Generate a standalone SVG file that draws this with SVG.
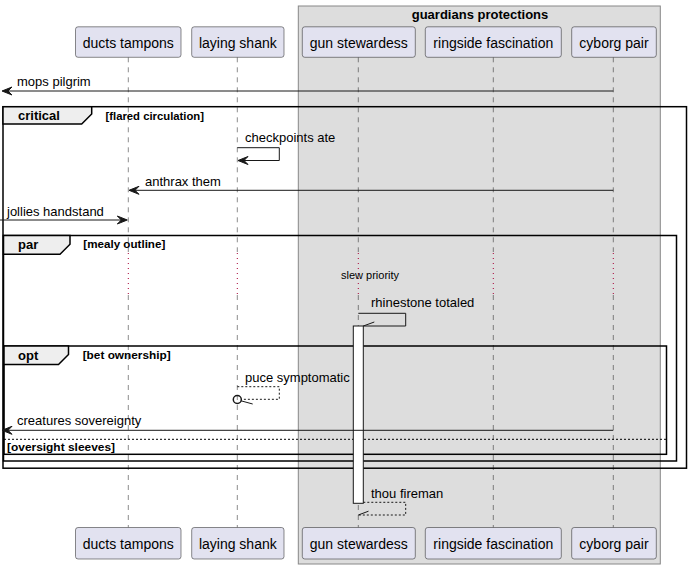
<svg xmlns="http://www.w3.org/2000/svg" width="691" height="569" viewBox="0 0 691 569">
<defs>
<style>
.pbox{fill:#E2E2F0;stroke:#181818;stroke-width:0.5;}
.plabel{font-family:"Liberation Sans",Arial,sans-serif;font-size:14px;fill:#000;text-anchor:middle;}
.life{stroke:#181818;stroke-width:0.5;stroke-dasharray:5,5;fill:none;}
.delay{stroke:#A80036;stroke-width:1;stroke-dasharray:1,4;fill:none;}
.msg{stroke:#181818;stroke-width:1;fill:none;}
.dmsg{stroke:#181818;stroke-width:1;fill:none;stroke-dasharray:2,2;}
.mtext{font-family:"Liberation Sans",Arial,sans-serif;font-size:13px;fill:#000;}
.small{font-family:"Liberation Sans",Arial,sans-serif;font-size:11px;fill:#000;}
.frame{stroke:#000;stroke-width:1.5;fill:none;}
.tab{stroke:#000;stroke-width:1.5;fill:#EEEEEE;}
.ftitle{font-family:"Liberation Sans",Arial,sans-serif;font-size:13px;font-weight:bold;fill:#000;}
.fcond{font-family:"Liberation Sans",Arial,sans-serif;font-size:11.5px;font-weight:bold;fill:#000;}
.head{fill:#181818;stroke:#181818;stroke-width:1;}
</style>
</defs>
<g id="box-guardians">
<rect x="298.3" y="6" width="362" height="558" fill="#DDDDDD" stroke="#888888" stroke-width="1"/>
<text x="480" y="19.3" class="ftitle" text-anchor="middle">guardians protections</text>
</g>
<g id="lifelines">
<path class="life" d="M128.3,57.3 V252 M128.3,295 V527.5"/>
<path class="life" d="M237.3,57.3 V252 M237.3,295 V527.5"/>
<path class="life" d="M358.3,57.3 V252 M358.3,295 V527.5"/>
<path class="life" d="M493.3,57.3 V252 M493.3,295 V527.5"/>
<path class="life" d="M613.3,57.3 V252 M613.3,295 V527.5"/>
<path class="delay" d="M128.3,253 V295 M237.3,253 V295 M358.3,253 V295 M493.3,253 V295 M613.3,253 V295"/>
</g>
<g id="ducts-tampons">
<rect class="pbox" x="75.5" y="26.8" width="105.5" height="30.5" rx="2.5"/>
<text class="plabel" x="128.3" y="47.5">ducts tampons</text>
<rect class="pbox" x="75.5" y="527.5" width="105.5" height="31.5" rx="2.5"/>
<text class="plabel" x="128.3" y="548.5">ducts tampons</text>
</g>
<g id="laying-shank">
<rect class="pbox" x="191.7" y="26.8" width="92.3" height="30.5" rx="2.5"/>
<text class="plabel" x="237.8" y="47.5">laying shank</text>
<rect class="pbox" x="191.7" y="527.5" width="92.3" height="31.5" rx="2.5"/>
<text class="plabel" x="237.8" y="548.5">laying shank</text>
</g>
<g id="gun-stewardess">
<rect class="pbox" x="302.3" y="26.8" width="113" height="30.5" rx="2.5"/>
<text class="plabel" x="358.8" y="47.5">gun stewardess</text>
<rect class="pbox" x="302.3" y="527.5" width="113" height="31.5" rx="2.5"/>
<text class="plabel" x="358.8" y="548.5">gun stewardess</text>
</g>
<g id="ringside-fascination">
<rect class="pbox" x="425.3" y="26.8" width="136" height="30.5" rx="2.5"/>
<text class="plabel" x="493.3" y="47.5">ringside fascination</text>
<rect class="pbox" x="425.3" y="527.5" width="136" height="31.5" rx="2.5"/>
<text class="plabel" x="493.3" y="548.5">ringside fascination</text>
</g>
<g id="cyborg-pair">
<rect class="pbox" x="571.7" y="26.8" width="84.6" height="30.5" rx="2.5"/>
<text class="plabel" x="614" y="47.5">cyborg pair</text>
<rect class="pbox" x="571.7" y="527.5" width="84.6" height="31.5" rx="2.5"/>
<text class="plabel" x="614" y="548.5">cyborg pair</text>
</g>
<g id="frames">
<rect class="frame" x="3" y="106.7" width="683.5" height="361.5"/>
<path class="tab" d="M3,106.7 H91.7 V114 L81.7,124 H3 Z"/>
<text class="ftitle" x="18" y="120.3">critical</text>
<text class="fcond" x="105.5" y="119.5" textLength="98.5" lengthAdjust="spacingAndGlyphs">[flared circulation]</text>
<rect class="frame" x="3.5" y="235.5" width="673" height="225.5"/>
<path class="tab" d="M3.5,235.5 H70 V244.3 L60,254.3 H3.5 Z"/>
<text class="ftitle" x="18" y="249.3">par</text>
<text class="fcond" x="83.3" y="248.3" textLength="82" lengthAdjust="spacingAndGlyphs">[mealy outline]</text>
<rect class="frame" x="4" y="346" width="662.5" height="108.3"/>
<path class="tab" d="M4,346 H68.5 V354.5 L58.5,364.5 H4 Z"/>
<text class="ftitle" x="18" y="360">opt</text>
<text class="fcond" x="82.7" y="359" textLength="88" lengthAdjust="spacingAndGlyphs">[bet ownership]</text>
<line x1="4" y1="439.3" x2="666.5" y2="439.3" stroke="#000" stroke-width="1" stroke-dasharray="2,2"/>
<text class="fcond" x="7" y="450.8" textLength="108" lengthAdjust="spacingAndGlyphs">[oversight sleeves]</text>
</g>
<g id="activation">
<rect x="353.3" y="326" width="10" height="177.3" fill="#FFFFFF" stroke="#181818" stroke-width="1"/>
</g>
<g id="connectors">
<line class="msg" x1="613.3" y1="91" x2="3" y2="91"/>
<polygon class="head" points="2,91 12,87 8,91 12,95"/>
<text class="mtext" x="17" y="86">mops pilgrim</text>

<path class="msg" d="M237.3,147.7 H279.3 V160.5 H238.3"/>
<polygon class="head" points="238,160.5 248,156.5 244,160.5 248,164.5"/>
<text class="mtext" x="245" y="141.8">checkpoints ate</text>

<line class="msg" x1="613.3" y1="190.3" x2="130" y2="190.3"/>
<polygon class="head" points="129,190.3 139,186.3 135,190.3 139,194.3"/>
<text class="mtext" x="145" y="186">anthrax them</text>

<line class="msg" x1="0" y1="220" x2="126" y2="220"/>
<polygon class="head" points="127.3,220 117.3,216 121.3,220 117.3,224"/>
<text class="mtext" x="7" y="215.5">jollies handstand</text>

<text class="small" x="341" y="278.5">slew priority</text>

<path class="msg" d="M358.3,313.3 H405.7 V326 H363.3"/>
<line class="msg" x1="363.3" y1="326" x2="374.3" y2="322"/>
<text class="mtext" x="371" y="307.3">rhinestone totaled</text>

<path class="dmsg" d="M237.3,386.7 H279.3 V399.3 H241.3"/>
<circle cx="237.3" cy="399.5" r="4" fill="none" stroke="#181818" stroke-width="1.5"/>
<line class="msg" x1="241" y1="400.8" x2="252.7" y2="404"/>
<text class="mtext" x="245" y="381.7">puce symptomatic</text>

<line class="msg" x1="613.3" y1="430.3" x2="3" y2="430.3"/>
<polygon class="head" points="2,430.3 12,426.3 8,430.3 12,434.3"/>
<text class="mtext" x="17" y="425">creatures sovereignty</text>

<path class="dmsg" d="M363.3,502.3 H405.7 V515 H358.3"/>
<line class="msg" x1="358.3" y1="515" x2="368.5" y2="511.2"/>
<text class="mtext" x="371" y="497.7">thou fireman</text>
</g>
</svg>
